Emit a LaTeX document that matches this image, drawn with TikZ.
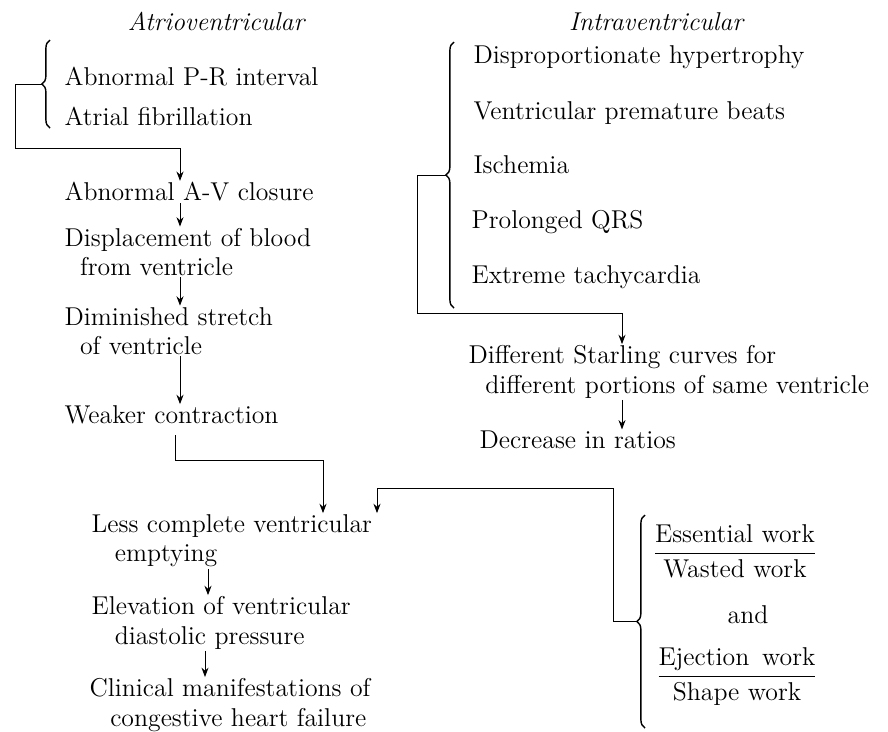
\documentclass[tikz,border=0pt]{standalone}
\usepackage{amsmath}
\usepackage{tikz}
\usetikzlibrary{arrows.meta,decorations.pathreplacing}

\begin{document}
\begin{tikzpicture}[
    x=0.015cm, y=-0.015cm,
    txt/.style={anchor=west, align=left, inner sep=0.5pt, font=\fontsize{11}{12.5}\selectfont},
    head/.style={inner sep=1pt, font=\fontsize{11}{12.5}\selectfont\itshape},
    frac/.style={inner sep=1pt, font=\fontsize{11}{12.5}\selectfont},
    bracket/.style={decorate, decoration={brace, amplitude=3.5pt}, semithick},
    arrow/.style={-{Stealth[length=4pt,width=3pt]}, thin}
]
\useasboundingbox (0,0) rectangle (888,731);

% Headings
\node[head] (atrio) at (216,21) {Atrioventricular};
\node[head] (intra) at (656,22) {Intraventricular};

% Atrioventricular causes
\node[txt] (pr) at (63,77) {Abnormal P-R interval};
\node[txt] (af) at (63,116) {Atrial fibrillation};
\draw[bracket] (50,128) -- (50,40);
\coordinate (b1) at (42,84);

% Atrioventricular chain
\node[txt] (avc) at (63,192) {Abnormal A-V closure};
\node[txt] (disp) at (63,252) {Displacement of blood\\\hspace*{0.6em}from ventricle};
\node[txt] (dim) at (63,331) {Diminished stretch\\\hspace*{0.6em}of ventricle};
\node[txt] (weak) at (63,415) {Weaker contraction};

% Intraventricular causes
\node[txt] (dh) at (472,57) {Disproportionate hypertrophy};
\node[txt] (vpb) at (472,113) {Ventricular premature beats};
\node[txt] (isch) at (472,165) {Ischemia};
\node[txt] (qrs) at (470,222) {Prolonged QRS};
\node[txt] (tach) at (470,277) {Extreme tachycardia};
\draw[bracket] (454,308) -- (454,42);
\coordinate (b2) at (446,175);

% Intraventricular chain
\node[txt] (star) at (467,372) {Different Starling curves for\\\hspace*{0.65em}different portions of same ventricle};
\node[txt] (dec) at (478,440) {Decrease in ratios};

% Common chain
\node[txt] (less) at (90,541) {Less complete ventricular\\\hspace*{0.9em}emptying};
\node[txt] (elev) at (90,623) {Elevation of ventricular\\\hspace*{0.9em}diastolic pressure};
\node[txt] (clin) at (88,705) {Clinical manifestations of\\\hspace*{0.8em}congestive heart failure};

% Ratios
\node[frac] (ew) at (735,551) {$\dfrac{\text{Essential work}}{\text{Wasted work}}$};
\node[frac] (and) at (748,615) {and};
\node[frac] (ej) at (737,677) {$\dfrac{\text{Ejection\hspace{0.5em}work}}{\text{Shape work}}$};
\draw[bracket] (645,728) -- (645,515);
\coordinate (b3) at (637,621);

% Arrow columns and bends
\coordinate (colA) at (180,0);
\coordinate (colC) at (622,0);
\coordinate (colD) at (208,0);
\coordinate (colE) at (205,0);
\coordinate (avin) at (180,148);
\coordinate (wout) at (175,0);
\coordinate (lessa) at (323,460);
\coordinate (lessb) at (377,488);
\coordinate (starin) at (622,313);

% Arrows
\draw[arrow] (b1) -- ++(-27,0) |- (avin) -- (avc.north -| avin);
\draw[arrow] (avc.south -| colA) -- (disp.north -| colA);
\draw[arrow] (disp.south -| colA) -- (dim.north -| colA);
\draw[arrow] (dim.south -| colA) -- (weak.north -| colA);
\draw[arrow, shorten <=4pt] (weak.south -| wout) |- (lessa) -- (less.north -| lessa);

\draw[arrow] (b2) -- ++(-29,0) |- (starin) -- (star.north -| starin);
\draw[arrow] (star.south -| colC) -- (dec.north -| colC);

\draw[arrow] (b3) -- ++(-24,0) |- (lessb) -- (less.north -| lessb);
\draw[arrow] (less.south -| colD) -- (elev.north -| colD);
\draw[arrow] (elev.south -| colE) -- (clin.north -| colE);

\end{tikzpicture}
\end{document}
